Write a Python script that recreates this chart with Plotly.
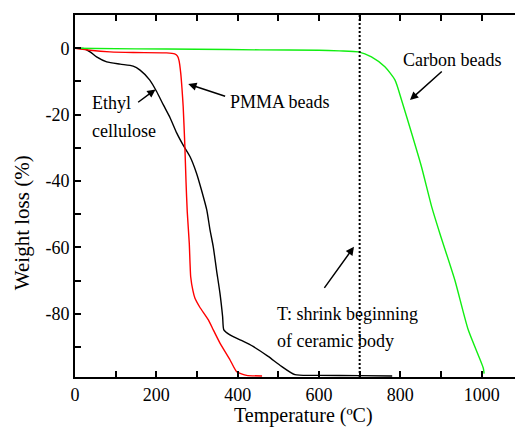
import plotly.graph_objects as go

# Thermogravimetric curves: temperature (ºC) vs weight loss (%)
temp_ethyl = [0, 20, 37, 53, 78, 111, 143, 160, 184, 201, 217, 234, 250, 266, 283,
              299, 311, 324, 332, 340, 348, 356.5, 363, 366, 381, 406, 438, 475,
              508, 541, 600, 700, 780]
loss_ethyl = [0, -0.1, -1.1, -2.6, -4.1, -4.8, -5.4, -6.6, -9.6, -13.1, -17.0, -21.0,
              -25.5, -29.2, -32.7, -37.7, -42.7, -48.7, -54.7, -59.8, -66.8, -73.8,
              -80.8, -84.8, -86.3, -87.8, -89.8, -92.8, -95.8, -98.3, -98.5, -98.6, -98.7]

temp_pmma = [0, 37, 86, 143, 225, 245, 252, 256, 260, 263, 266, 270, 273, 276, 281, 284.5,
             290, 295, 307, 328, 340, 356.5, 381, 397.5, 422, 460]
loss_pmma = [0, -0.6, -1.1, -1.3, -1.4, -1.7, -2.4, -3.8, -7.5, -12.0, -17.5, -29.0, -40.2,
             -49.2, -58.7, -68.8, -73.0, -75.3, -78.0, -81.8, -84.8, -88.8, -93.8, -97.4,
             -98.5, -98.7]

temp_carbon = [0, 150, 300, 455, 600, 650, 697, 729, 762, 787, 803, 828, 852, 877,
               897, 934, 967, 1004, 1006]
loss_carbon = [0, -0.2, -0.3, -0.5, -0.6, -0.8, -1.1, -2.6, -5.6, -9.6, -15.6, -25.7,
               -35.7, -47.7, -55.7, -69.8, -84.8, -96.3, -98.0]

shrink_temp = 700  # onset of ceramic body shrinkage

x_tickvals = list(range(0, 1001, 100))
x_ticktext = [str(v) if v % 200 == 0 else "" for v in x_tickvals]
y_tickvals = list(range(-90, 11, 10))
y_ticktext = [str(v) if v % 20 == 0 and v <= 0 else "" for v in y_tickvals]

FONT = "Liberation Serif"

fig = go.Figure()
fig.add_trace(go.Scatter(x=temp_ethyl, y=loss_ethyl, mode="lines",
                         line=dict(color="black", width=1.4, shape="spline", smoothing=0.6),
                         name="Ethyl cellulose"))
fig.add_trace(go.Scatter(x=temp_pmma, y=loss_pmma, mode="lines",
                         line=dict(color="#ff0000", width=1.4, shape="spline", smoothing=0.5),
                         name="PMMA beads"))
fig.add_trace(go.Scatter(x=temp_carbon, y=loss_carbon, mode="lines",
                         line=dict(color="#11ee11", width=1.4, shape="spline", smoothing=0.6),
                         name="Carbon beads"))

fig.add_shape(type="line", xref="x", yref="paper", x0=shrink_temp, x1=shrink_temp,
              y0=0, y1=1, line=dict(color="black", width=2, dash="2px,2px"))

# Labels
texts = [
    ("Ethyl", 38, -16.4),
    ("cellulose", 38, -25.0),
    ("PMMA beads", 376, -16.2),
    ("Carbon beads", 802, -3.6),
    ("T: shrink beginning", 492, -80.0),
    ("of ceramic body", 492, -88.1),
]
for txt, tx, ty in texts:
    fig.add_annotation(x=tx, y=ty, text=txt, showarrow=False, xanchor="left",
                       yanchor="middle", font=dict(family=FONT, size=18, color="black"))

# Arrows: (head_x, head_y, tail_x, tail_y)
arrows = [
    (198, -12.4, 151.6, -16.6),
    (278.5, -10.8, 372.9, -14.6),
    (823.7, -15.6, 905.6, -6.6),
    (686, -59.8, 610.6, -72.6),
]
for hx, hy, tx, ty in arrows:
    fig.add_annotation(x=hx, y=hy, ax=tx, ay=ty, xref="x", yref="y", axref="x", ayref="y",
                       text="", showarrow=True, arrowhead=2, arrowsize=1.1,
                       arrowwidth=1.5, arrowcolor="black")

# Axis titles
fig.add_annotation(x=563, y=-0.1409, xref="x", yref="paper", text="Temperature (ºC)",
                   showarrow=False, xanchor="center", yanchor="bottom", borderpad=0,
                   font=dict(family=FONT, size=20, color="black"))
fig.add_annotation(x=0, y=0.425, xref="paper", yref="paper", xshift=-53,
                   text="Weight loss (%)", textangle=-90, showarrow=False,
                   xanchor="center", yanchor="middle",
                   font=dict(family=FONT, size=21, color="black"))

axis_common = dict(showgrid=False, zeroline=False, showline=True, linecolor="black",
                   linewidth=2, ticks="inside", ticklen=6, tickwidth=1.5,
                   tickcolor="black", tickfont=dict(family=FONT, size=18, color="black"))

fig.update_layout(
    width=515, height=428,
    margin=dict(l=75, r=0, t=15, b=51),
    paper_bgcolor="white", plot_bgcolor="white",
    showlegend=False,
    xaxis=dict(range=[0, 1082], tickmode="array", tickvals=x_tickvals,
               ticktext=x_ticktext, mirror="ticks", **axis_common),
    yaxis=dict(range=[-99, 10], tickmode="array", tickvals=y_tickvals,
               ticktext=y_ticktext, mirror=False, **axis_common),
)

fig.write_html("out.html")
